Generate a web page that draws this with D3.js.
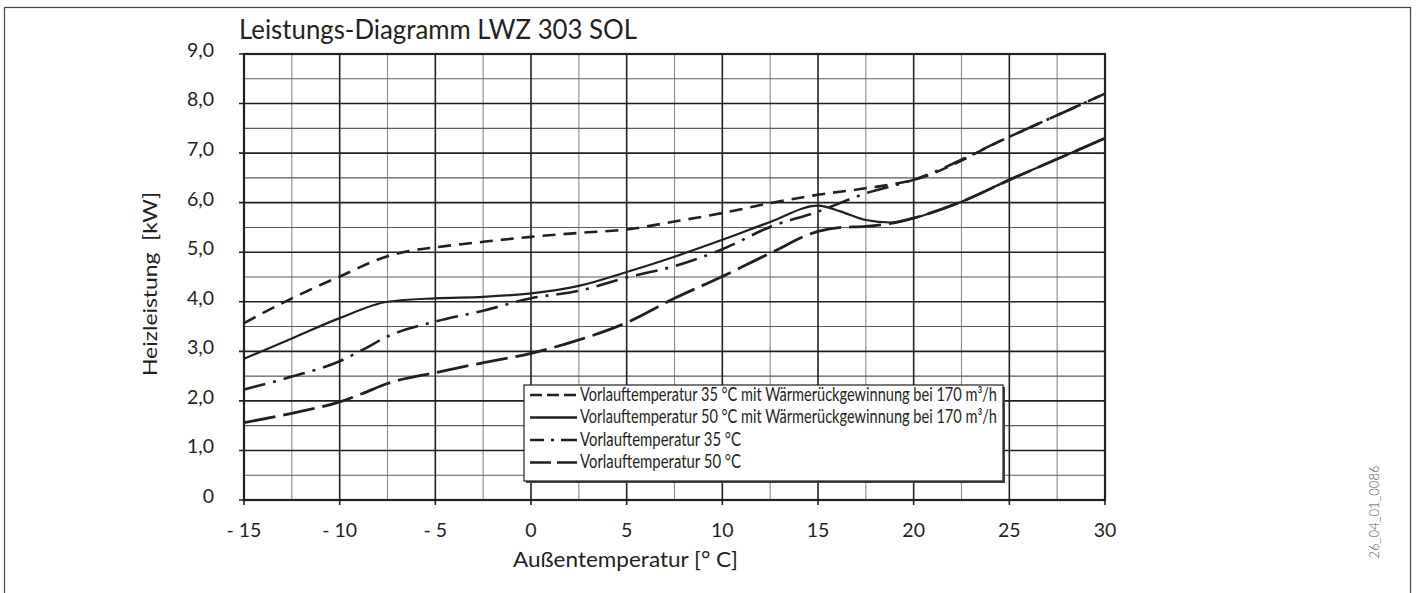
<!DOCTYPE html>
<html>
<head>
<meta charset="utf-8">
<script src="https://cdn.jsdelivr.net/npm/d3@7"></script>
<style>
  html, body { margin: 0; padding: 0; background: #fff; }
  svg { display: block; font-family: Lato, "Open Sans", sans-serif; }
  text { white-space: pre; }
</style>
</head>
<body>
<svg id="chart" width="1418" height="593"></svg>
<script>
// Heating capacity of the LWZ 303 SOL over outdoor temperature
const title = "Leistungs-Diagramm LWZ 303 SOL";
const xTitle = "Außentemperatur [° C]";
const yTitle = "Heizleistung\u00a0\u00a0[kW]";
const docCode = "26_04_01_0086";

const xTicks = [-15, -10, -5, 0, 5, 10, 15, 20, 25, 30];
const xTickLabels = ["- 15", "- 10", "- 5", "0", "5", "10", "15", "20", "25", "30"];
const yTicks = [0, 1, 2, 3, 4, 5, 6, 7, 8, 9];
const yTickLabels = ["0", "1,0", "2,0", "3,0", "4,0", "5,0", "6,0", "7,0", "8,0", "9,0"];

const seriesNames = [
  "Vorlauftemperatur 35 °C mit Wärmerückgewinnung bei 170 m³/h",
  "Vorlauftemperatur 50 °C mit Wärmerückgewinnung bei 170 m³/h",
  "Vorlauftemperatur 35 °C",
  "Vorlauftemperatur 50 °C"
];

// 35 °C flow temperature with heat recovery
const vl35wrgT = [-15, -12.5, -10, -7.5, -6, -5, -2.5, 0, 2.5, 5, 7.5, 10, 12.5, 15, 17.5, 20, 25, 30];
const vl35wrgP = [3.57, 4.07, 4.51, 4.92, 5.05, 5.10, 5.21, 5.31, 5.39, 5.46, 5.62, 5.79, 5.99, 6.16, 6.29, 6.46, 7.33, 8.20];
// 50 °C flow temperature with heat recovery
const vl50wrgT = [-15, -12.5, -10, -7.5, -5, -2.5, 0, 2.5, 5, 7.5, 10, 12.5, 15, 16.2, 17.5, 18.8, 20, 22.5, 25, 27.5, 30];
const vl50wrgP = [2.85, 3.26, 3.67, 4.00, 4.07, 4.10, 4.17, 4.32, 4.60, 4.91, 5.25, 5.61, 5.94, 5.82, 5.65, 5.60, 5.69, 6.02, 6.46, 6.88, 7.30];
// 35 °C flow temperature
const vl35T = [-15, -12.5, -10, -8.8, -7.5, -5, -2.5, 0, 2.5, 5, 7.5, 10, 12.5, 15, 17.5, 20, 25, 30];
const vl35P = [2.23, 2.49, 2.80, 3.03, 3.30, 3.60, 3.82, 4.07, 4.22, 4.49, 4.72, 5.06, 5.51, 5.82, 6.19, 6.46, 7.33, 8.20];
// 50 °C flow temperature
const vl50T = [-15, -12.5, -10, -8.8, -7.5, -5, -2.5, 0, 2.5, 5, 7.5, 10, 12.5, 15, 16.2, 17.5, 18.8, 20, 22.5, 25, 27.5, 30];
const vl50P = [1.56, 1.75, 1.98, 2.15, 2.35, 2.57, 2.77, 2.96, 3.23, 3.58, 4.07, 4.51, 4.98, 5.42, 5.50, 5.52, 5.58, 5.69, 6.02, 6.46, 6.88, 7.30];

const series = [
  { name: seriesNames[0], t: vl35wrgT, p: vl35wrgP, dash: "13,8", width: 2.6, legendDash: "12,5", textLen: 417 },
  { name: seriesNames[1], t: vl50wrgT, p: vl50wrgP, dash: null, width: 2.2, legendDash: null, textLen: 417 },
  { name: seriesNames[2], t: vl35T, p: vl35P, dash: "22,8,3,8", width: 2.6, legendDash: "14,7,3,7,16,60", textLen: 161 },
  { name: seriesNames[3], t: vl50T, p: vl50P, dash: "32,8", width: 2.8, legendDash: "21,6", textLen: 161 }
];

const svg = d3.select("#chart");
const ink = "#231f20";

const x = d3.scaleLinear().domain([-15, 30]).range([244, 1105]);
const y = d3.scaleLinear().domain([0, 9]).range([500, 54]);

// outer frame
svg.append("rect")
  .attr("x", 4.5).attr("y", 7.5).attr("width", 1406).attr("height", 600)
  .attr("fill", "none").attr("stroke", "#444").attr("stroke-width", 1.2);

// grid: minor lines every 2.5 °C and 0.5 kW
const g = svg.append("g");
g.selectAll(".vminor").data(d3.range(-12.5, 30, 5)).join("line")
  .attr("x1", d => x(d)).attr("x2", d => x(d))
  .attr("y1", y(9)).attr("y2", y(0))
  .attr("stroke", "#8a8a8a").attr("stroke-width", 1.1);
g.selectAll(".hminor").data(d3.range(0.5, 9, 1)).join("line")
  .attr("x1", x(-15)).attr("x2", x(30))
  .attr("y1", d => y(d)).attr("y2", d => y(d))
  .attr("stroke", "#5a5a5a").attr("stroke-width", 1.1);
g.selectAll(".vmajor").data(xTicks).join("line")
  .attr("x1", d => x(d)).attr("x2", d => x(d))
  .attr("y1", y(9)).attr("y2", y(0) + 5)
  .attr("stroke", ink).attr("stroke-width", 1.6);
g.selectAll(".hmajor").data(yTicks).join("line")
  .attr("x1", x(-15) - 5).attr("x2", x(30))
  .attr("y1", d => y(d)).attr("y2", d => y(d))
  .attr("stroke", ink).attr("stroke-width", 1.6);

// plot border
svg.append("rect")
  .attr("x", x(-15)).attr("y", y(9))
  .attr("width", x(30) - x(-15)).attr("height", y(0) - y(9))
  .attr("fill", "none").attr("stroke", ink).attr("stroke-width", 2.2);

// tick labels
svg.append("g").selectAll("text").data(yTicks).join("text")
  .attr("x", 214).attr("y", d => y(d) - 2)
  .attr("text-anchor", "end").attr("dominant-baseline", "middle")
  .attr("font-size", 19.5).attr("fill", ink)
  .text((d, i) => yTickLabels[i]);

svg.append("g").selectAll("text").data(xTicks).join("text")
  .attr("x", d => x(d)).attr("y", 537)
  .attr("text-anchor", "middle")
  .attr("font-size", 19.5).attr("fill", ink)
  .text((d, i) => xTickLabels[i]);

// titles
svg.append("text").attr("x", 239).attr("y", 39)
  .attr("font-size", 26).attr("fill", ink)
  .attr("textLength", 398).attr("lengthAdjust", "spacingAndGlyphs")
  .text(title);

svg.append("text").attr("x", 513).attr("y", 567)
  .attr("font-size", 21).attr("fill", ink)
  .attr("textLength", 225).attr("lengthAdjust", "spacingAndGlyphs")
  .text(xTitle);

svg.append("text")
  .attr("transform", "translate(157,284) rotate(-90)")
  .attr("text-anchor", "middle")
  .attr("font-size", 19.5).attr("fill", ink)
  .attr("textLength", 184).attr("lengthAdjust", "spacingAndGlyphs")
  .text(yTitle);

svg.append("text")
  .attr("transform", "translate(1379,512) rotate(-90)")
  .attr("text-anchor", "middle")
  .attr("font-size", 13).attr("font-weight", 300).attr("fill", "#555")
  .text(docCode);

// curves
const line = d3.line()
  .x(d => x(d[0])).y(d => y(d[1]))
  .curve(d3.curveMonotoneX);

svg.append("g").selectAll("path").data(series).join("path")
  .attr("d", s => line(s.t.map((t, i) => [t, s.p[i]])))
  .attr("fill", "none").attr("stroke", ink)
  .attr("stroke-width", s => s.width)
  .attr("stroke-dasharray", s => s.dash)
  .attr("stroke-linejoin", "round");

// legend
const lg = svg.append("g");
lg.append("rect").attr("x", 526).attr("y", 387).attr("width", 479).attr("height", 96)
  .attr("fill", "#444");
lg.append("rect").attr("x", 524).attr("y", 385).attr("width", 479).attr("height", 96)
  .attr("fill", "#fff").attr("stroke", ink).attr("stroke-width", 1.2);

const rows = lg.selectAll(".row").data(series).join("g")
  .attr("transform", (d, i) => `translate(0,${395 + i * 22.5})`);
rows.append("line")
  .attr("x1", 530).attr("x2", 577).attr("y1", 0).attr("y2", 0)
  .attr("stroke", ink).attr("stroke-width", 2.4)
  .attr("stroke-dasharray", s => s.legendDash);
rows.append("text")
  .attr("x", 580).attr("y", 1)
  .attr("dominant-baseline", "middle")
  .attr("font-size", 18.5).attr("fill", ink)
  .attr("textLength", s => s.textLen).attr("lengthAdjust", "spacingAndGlyphs")
  .text(s => s.name);
</script>
</body>
</html>
